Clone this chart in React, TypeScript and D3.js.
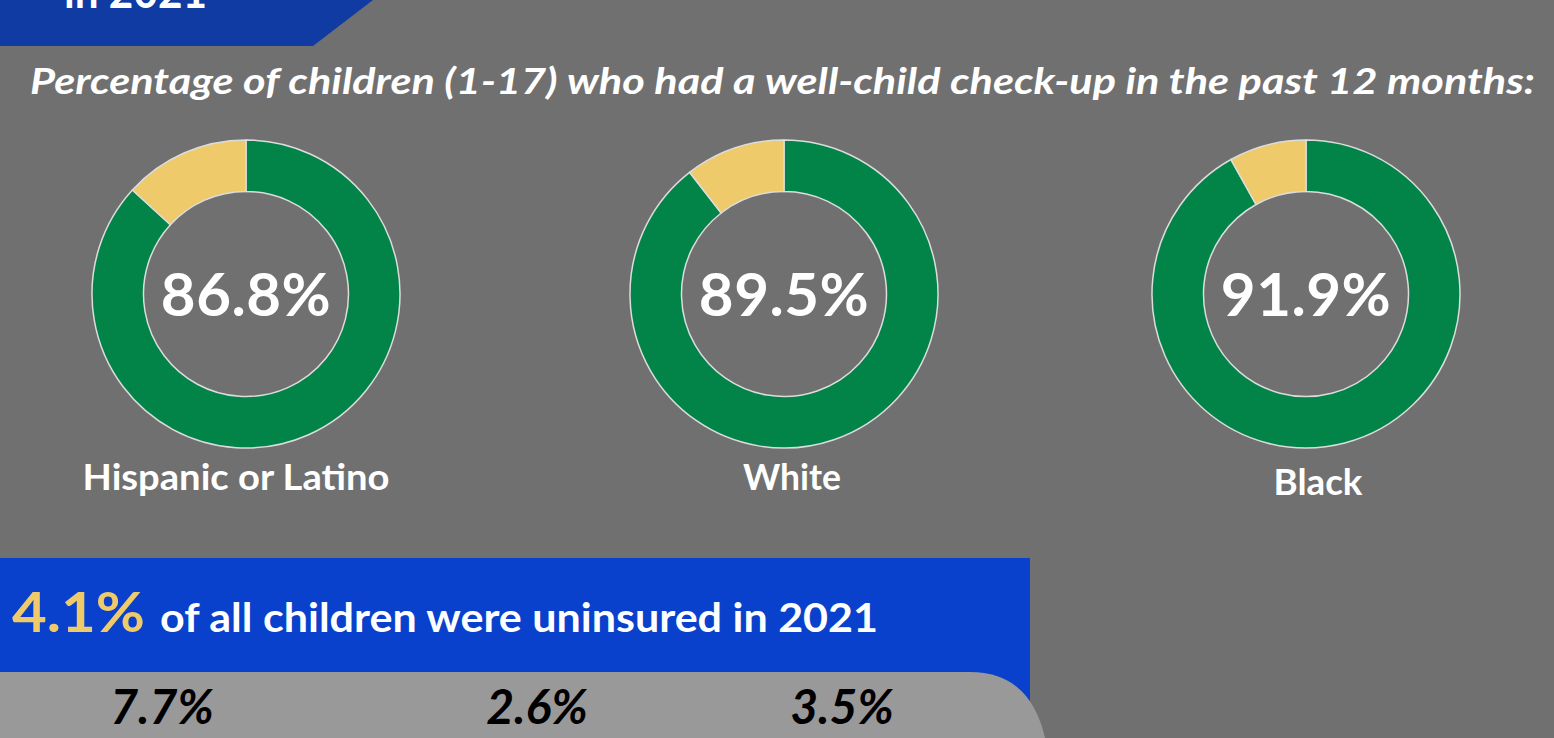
import React from "react";
import * as d3 from "d3";

const groups = ["Hispanic or Latino", "White", "Black"];
const checkupPct = [86.8, 89.5, 91.9];
const uninsuredPct = [7.7, 2.6, 3.5];
const overallUninsured = 4.1;
const subtitle = "Percentage of children (1-17) who had a well-child check-up in the past 12 months:";
const bannerText = "in 2021";
const uninsuredText = "of all children were uninsured in 2021";

const W = 1554;
const H = 738;
const FONT = "Lato, 'Open Sans', sans-serif";

export default function App() {
  const cx = [246, 784, 1306];
  const labelX = [236, 792, 1318];
  const labelY = [490, 490, 495];
  const labelLen = [307, 98, 89];
  const cy = 294;
  const outerR = 154;
  const innerR = 102.5;
  const pie = d3.pie<number>().sort(null).startAngle(0).endAngle(2 * Math.PI);
  const arc = d3.arc<d3.PieArcDatum<number>>().innerRadius(innerR).outerRadius(outerR);
  const colors = ["#028348", "#eeca6a"];
  const uninsX = [162, 537, 842];

  return (
    <svg width={W} height={H} style={{ position: "absolute", left: 0, top: 0, display: "block" }}>
      <rect x={0} y={0} width={W} height={H} fill="#707070" />
      {/* top banner */}
      <path d="M0,0 L373,0 L313,46 L0,46 Z" fill="#0f3ba3" />
      <text
        x={64}
        y={8}
        fill="#fff"
        fontFamily={FONT}
        fontWeight={700}
        fontSize={46}
        textLength={143}
        lengthAdjust="spacingAndGlyphs"
      >
        {bannerText}
      </text>
      <text
        x={30}
        y={94}
        fill="#fff"
        fontFamily={FONT}
        fontWeight={700}
        fontStyle="italic"
        fontSize={36}
        textLength={1505}
        lengthAdjust="spacingAndGlyphs"
      >
        {subtitle}
      </text>
      {groups.map((g, i) => {
        const arcs = pie([checkupPct[i], 100 - checkupPct[i]]);
        return (
          <g key={g}>
            <g transform={`translate(${cx[i]},${cy})`}>
              {arcs.map((a, j) => (
                <path key={j} d={arc(a) || ""} fill={colors[j]} stroke="#dcdcdc" strokeWidth={1.5} />
              ))}
              <text
                x={0}
                y={22}
                textAnchor="middle"
                fill="#fff"
                fontFamily={FONT}
                fontWeight={700}
                fontSize={60}
                letterSpacing={0.5}
              >
                {checkupPct[i].toFixed(1)}%
              </text>
            </g>
            <text
              x={labelX[i]}
              y={labelY[i]}
              textAnchor="middle"
              fill="#fff"
              fontFamily={FONT}
              fontWeight={700}
              fontSize={36}
              textLength={labelLen[i]}
              lengthAdjust="spacingAndGlyphs"
            >
              {g}
            </text>
          </g>
        );
      })}
      {/* bottom blue band */}
      <rect x={0} y={558} width={1030} height={180} fill="#0941cc" />
      <text
        x={12}
        y={632}
        fill="#eeca6a"
        fontFamily={FONT}
        fontWeight={700}
        fontSize={56}
        textLength={133}
        lengthAdjust="spacingAndGlyphs"
      >
        {overallUninsured}%
      </text>
      <text
        x={160}
        y={632}
        fill="#fff"
        fontFamily={FONT}
        fontWeight={700}
        fontSize={40}
        textLength={718}
        lengthAdjust="spacingAndGlyphs"
      >
        {uninsuredText}
      </text>
      <path d="M0,672 L970,672 Q1030,672 1045,738 L0,738 Z" fill="#999999" />
      {uninsuredPct.map((v, i) => (
        <text
          key={i}
          x={uninsX[i]}
          y={724}
          textAnchor="middle"
          fill="#000"
          fontFamily={FONT}
          fontWeight={700}
          fontStyle="italic"
          fontSize={48}
        >
          {v}%
        </text>
      ))}
    </svg>
  );
}
